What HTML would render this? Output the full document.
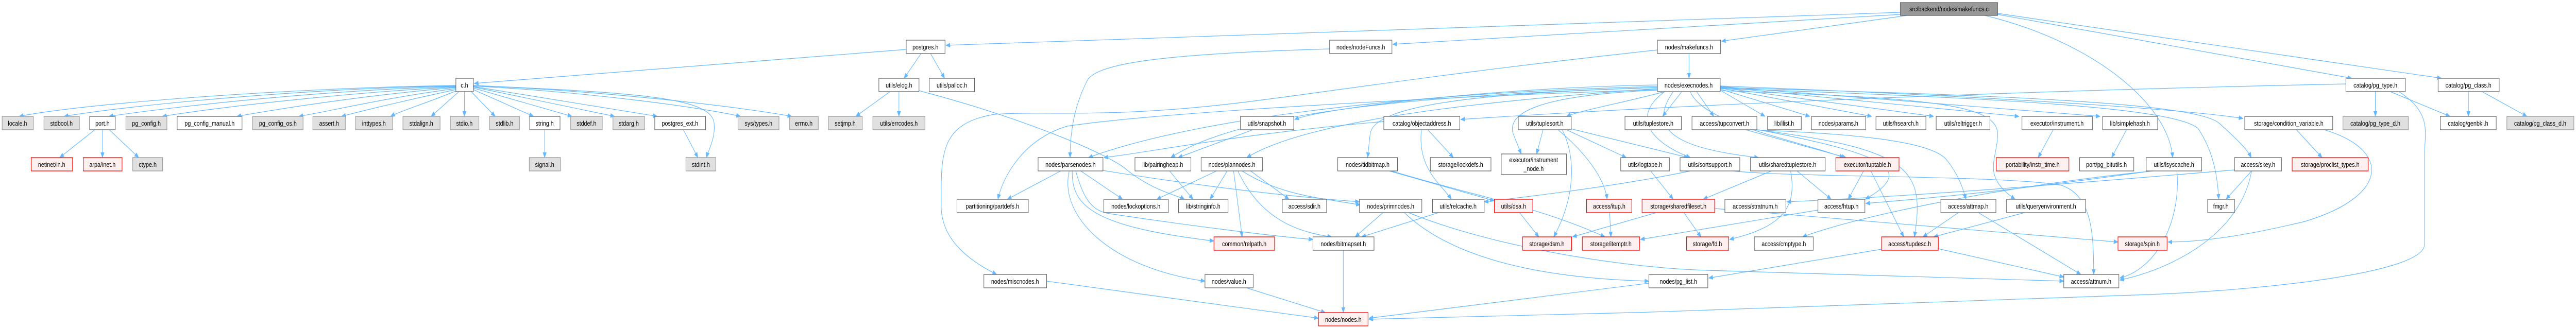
<!DOCTYPE html>
<html><head><meta charset="utf-8"><style>
html,body{margin:0;padding:0;background:#fff;overflow:hidden;width:100%;height:100%;}
svg{display:block;width:100vw;height:100vh;}
text{font-family:"Liberation Sans",sans-serif;font-size:13px;fill:#000;text-anchor:middle;}
.e{fill:none;stroke:#63b8ff;stroke-width:1.2;marker-end:url(#a);}
.w{fill:#fff;stroke:#666;stroke-width:1.3;}
.g{fill:#e0e0e0;stroke:#999;stroke-width:1.3;}
.r{fill:#fff0f0;stroke:#ff0000;stroke-width:1.3;}
.t{fill:#999;stroke:#666;stroke-width:1.3;}
</style></head><body>
<svg viewBox="0 0 6035 637" preserveAspectRatio="none" xmlns="http://www.w3.org/2000/svg">
<defs><marker id="a" markerWidth="11" markerHeight="9" refX="10" refY="4.5" orient="auto" markerUnits="userSpaceOnUse"><path d="M0,0 L11,4.5 L0,9 z" fill="#63b8ff"/></marker></defs>
<g>
<path class="e" d="M1068 166 C700 170,200 200,45 226"/>
<path class="e" d="M1068 167 C700 172,300 205,150 226"/>
<path class="e" d="M1068 168 C750 175,400 208,255 226"/>
<path class="e" d="M1068 169 C800 180,500 210,380 226"/>
<path class="e" d="M1068 170 C850 185,650 212,555 226"/>
<path class="e" d="M1068 172 C900 190,780 215,700 226"/>
<path class="e" d="M1068 174 C950 195,850 215,800 226"/>
<path class="e" d="M1070 176 C1000 200,940 215,915 226"/>
<path class="e" d="M1075 178 L1010 226"/>
<path class="e" d="M1088 178 L1088 226"/>
<path class="e" d="M1104 178 L1160 226"/>
<path class="e" d="M1109 174 L1250 226"/>
<path class="e" d="M1109 171 L1340 226"/>
<path class="e" d="M1109 169 L1440 226"/>
<path class="e" d="M1109 168 L1540 226"/>
<path class="e" d="M1109 167 C1400 180,1650 210,1735 226"/>
<path class="e" d="M1109 166 C1450 178,1750 210,1855 226"/>
<path class="e" d="M1109 166 C1500 180,1670 190,1673 240 C1676 270,1660 290,1655 306"/>
<path class="e" d="M222 252 L140 306"/>
<path class="e" d="M240 252 L240 306"/>
<path class="e" d="M256 252 L325 306"/>
<path class="e" d="M1276 252 L1276 306"/>
<path class="e" d="M1601 252 L1635 306"/>
<path class="e" d="M2158 104 L2118 152"/>
<path class="e" d="M2180 104 L2213 152"/>
<path class="e" d="M2085 178 L2005 226"/>
<path class="e" d="M2106 178 L2106 226"/>
<path class="e" d="M2153 176 C2400 230,2600 300,2640 330 C2700 370,2760 380,2775 387"/>
<path class="e" d="M4452 24 L2216 88"/>
<path class="e" d="M4452 28 L3263 86"/>
<path class="e" d="M4468 30 L4033 80"/>
<path class="e" d="M4680 28 L5510 152"/>
<path class="e" d="M4680 26 L5720 152"/>
<path class="e" d="M4650 30 C4900 80,5080 200,5090 306"/>
<path class="e" d="M2123 96 L1111 162"/>
<path class="e" d="M3115 95 C2700 105,2560 125,2545 160 C2515 210,2507 260,2507 306"/>
<path class="e" d="M3957 104 L3957 152"/>
<path class="e" d="M3883 97 C3400 140,3100 180,2900 200 C2600 230,2450 215,2330 222 C2200 240,2205 300,2205 400 C2205 470,2280 510,2335 533"/>
<path class="e" d="M3883 165 C3500 170,3100 210,3033 232"/>
<path class="e" d="M5496 163 C4800 175,4000 200,3422 232"/>
<path class="e" d="M3900 178 C3800 200,3700 215,3670 226"/>
<path class="e" d="M3940 178 L3895 226"/>
<path class="e" d="M3975 178 L4015 226"/>
<path class="e" d="M4030 175 L4135 226"/>
<path class="e" d="M4030 173 L4240 226"/>
<path class="e" d="M4030 171 L4385 226"/>
<path class="e" d="M4030 170 L4530 226"/>
<path class="e" d="M4030 169 L4730 226"/>
<path class="e" d="M4030 168 L4920 226"/>
<path class="e" d="M4030 167 C4600 185,5100 210,5255 230"/>
<path class="e" d="M4030 170 C4700 185,5150 200,5200 240 C5240 270,5265 290,5274 306"/>
<path class="e" d="M4030 172 C4700 190,5100 210,5150 250 C5190 300,5195 350,5198 387"/>
<path class="e" d="M4030 176 C4500 190,4680 200,4680 260 C4680 310,4640 340,4721 387"/>
<path class="e" d="M4100 252 C4300 258,4520 270,4560 310 C4590 340,4600 370,4606 387"/>
<path class="e" d="M3883 172 C3400 200,3050 240,2921 306"/>
<path class="e" d="M3883 170 C3300 185,2900 220,2743 306"/>
<path class="e" d="M3883 168 C3300 180,2800 230,2550 306"/>
<path class="e" d="M3242 236 C2900 260,2700 295,2586 306"/>
<path class="e" d="M3883 174 C3300 190,2700 220,2500 245 C2400 270,2350 340,2338 387"/>
<path class="e" d="M3883 170 C3500 180,3220 200,3210 260 L3204 306"/>
<path class="e" d="M3883 175 C3600 185,3530 220,3545 260 L3564 299"/>
<path class="e" d="M3900 178 C3830 220,3850 270,3960 306"/>
<path class="e" d="M3920 178 C3850 260,3950 290,4120 306"/>
<path class="e" d="M3960 178 C3990 240,4200 270,4320 306"/>
<path class="e" d="M3345 252 L3405 306"/>
<path class="e" d="M3330 252 C3320 330,3380 360,3400 387"/>
<path class="e" d="M2935 252 L2760 306"/>
<path class="e" d="M2485 332 L2360 387"/>
<path class="e" d="M2532 332 L2630 387"/>
<path class="e" d="M2512 332 C2510 400,2560 440,2844 468"/>
<path class="e" d="M2505 332 C2480 420,2600 520,2823 546"/>
<path class="e" d="M2584 331 C2800 360,3000 380,3185 392"/>
<path class="e" d="M2520 332 C2540 390,2560 410,2600 415 C2800 440,3000 460,3076 465"/>
<path class="e" d="M2740 332 L2795 387"/>
<path class="e" d="M2850 332 L2710 387"/>
<path class="e" d="M2875 332 L2835 387"/>
<path class="e" d="M2890 332 L2910 460"/>
<path class="e" d="M2910 332 C3000 380,3100 385,3187 398"/>
<path class="e" d="M2900 332 C2950 420,3030 450,3120 460"/>
<path class="e" d="M2930 332 L3020 387"/>
<path class="e" d="M2452 546 L3089 618"/>
<path class="e" d="M2920 559 L3105 607"/>
<path class="e" d="M3147 486 L3147 607"/>
<path class="e" d="M3863 550 L3207 618"/>
<path class="e" d="M5620 178 C5700 220,5680 260,5680 300 L5680 475 C5680 530,5300 565,5000 573 C4500 590,3800 610,3207 620"/>
<path class="e" d="M3240 413 L3175 460"/>
<path class="e" d="M3290 413 C3400 500,3600 540,3863 546"/>
<path class="e" d="M3300 413 C3500 480,3800 520,4000 525 C4400 535,4700 540,4835 546"/>
<path class="e" d="M3370 413 L3190 460"/>
<path class="e" d="M3560 413 L3605 460"/>
<path class="e" d="M3660 252 C3700 320,3680 400,3640 460"/>
<path class="e" d="M3650 252 C3720 300,3760 350,3765 387"/>
<path class="e" d="M3670 252 L3810 306"/>
<path class="e" d="M3680 250 L3955 306"/>
<path class="e" d="M3615 252 L3600 299"/>
<path class="e" d="M3255 332 L3501 390"/>
<path class="e" d="M3260 332 C3450 380,3600 400,3760 460"/>
<path class="e" d="M3867 332 L3920 387"/>
<path class="e" d="M3960 332 C3800 360,3600 380,3477 392"/>
<path class="e" d="M3880 413 L3684 460"/>
<path class="e" d="M3945 413 L3985 460"/>
<path class="e" d="M3771 413 L3774 460"/>
<path class="e" d="M4210 332 L4290 387"/>
<path class="e" d="M4195 332 C4210 400,4180 440,4052 465"/>
<path class="e" d="M4150 332 L3990 387"/>
<path class="e" d="M4366 332 L4330 387"/>
<path class="e" d="M4383 332 L4460 460"/>
<path class="e" d="M4090 252 L4325 306"/>
<path class="e" d="M4120 252 C4420 300,4490 330,4370 387"/>
<path class="e" d="M4116 252 C4480 290,4510 330,4485 460"/>
<path class="e" d="M4810 252 L4775 306"/>
<path class="e" d="M4982 252 L4947 306"/>
<path class="e" d="M4588 413 L4505 460"/>
<path class="e" d="M4635 413 L4875 533"/>
<path class="e" d="M4743 413 L4530 460"/>
<path class="e" d="M4541 483 L4835 538"/>
<path class="e" d="M4408 484 L4003 540"/>
<path class="e" d="M4259 408 L3843 465"/>
<path class="e" d="M5235 330 C4800 360,4500 380,4186 392"/>
<path class="e" d="M5040 332 C4800 360,4600 380,4371 395"/>
<path class="e" d="M5045 332 C4700 360,4350 420,4223 460"/>
<path class="e" d="M5100 332 C5110 420,5060 520,4966 540"/>
<path class="e" d="M5275 332 C5250 450,5100 520,4966 544"/>
<path class="e" d="M5275 332 L5215 387"/>
<path class="e" d="M5380 252 L5440 306"/>
<path class="e" d="M5445 252 C5600 290,5600 380,5400 430 C5250 460,5150 470,5079 470"/>
<path class="e" d="M4017 405 C4400 430,4800 460,4962 470"/>
<path class="e" d="M5565 178 L5565 226"/>
<path class="e" d="M5600 178 L5740 226"/>
<path class="e" d="M5783 178 L5783 226"/>
<path class="e" d="M5815 178 L5920 226"/>
<path class="e" d="M4060 332 C4200 345,4700 340,4830 360 C4900 380,4905 450,4905 533"/>
</g>
<g>
<rect class="t" x="4452" y="5" width="228" height="25"/><text x="4566" y="22">src/backend/nodes/makefuncs.c</text>
<rect class="w" x="2123" y="78" width="91" height="26"/><text x="2168" y="96">postgres.h</text>
<rect class="w" x="3115" y="78" width="146" height="26"/><text x="3188" y="96">nodes/nodeFuncs.h</text>
<rect class="w" x="3883" y="78" width="148" height="26"/><text x="3957" y="96">nodes/makefuncs.h</text>
<rect class="w" x="1068" y="152" width="41" height="26"/><text x="1088" y="170">c.h</text>
<rect class="w" x="2059" y="152" width="94" height="26"/><text x="2106" y="170">utils/elog.h</text>
<rect class="w" x="2177" y="152" width="106" height="26"/><text x="2230" y="170">utils/palloc.h</text>
<rect class="w" x="3883" y="152" width="147" height="26"/><text x="3956" y="170">nodes/execnodes.h</text>
<rect class="w" x="5496" y="152" width="139" height="26"/><text x="5565" y="170">catalog/pg_type.h</text>
<rect class="w" x="5712" y="152" width="143" height="26"/><text x="5783" y="170">catalog/pg_class.h</text>
<rect class="g" x="5" y="226" width="73" height="26"/><text x="41" y="244">locale.h</text>
<rect class="g" x="103" y="226" width="83" height="26"/><text x="144" y="244">stdbool.h</text>
<rect class="w" x="210" y="226" width="60" height="26"/><text x="240" y="244">port.h</text>
<rect class="g" x="295" y="226" width="96" height="26"/><text x="343" y="244">pg_config.h</text>
<rect class="w" x="415" y="226" width="152" height="26"/><text x="491" y="244">pg_config_manual.h</text>
<rect class="g" x="592" y="226" width="118" height="26"/><text x="651" y="244">pg_config_os.h</text>
<rect class="g" x="733" y="226" width="76" height="26"/><text x="771" y="244">assert.h</text>
<rect class="g" x="833" y="226" width="87" height="26"/><text x="876" y="244">inttypes.h</text>
<rect class="g" x="944" y="226" width="87" height="26"/><text x="987" y="244">stdalign.h</text>
<rect class="g" x="1055" y="226" width="67" height="26"/><text x="1088" y="244">stdio.h</text>
<rect class="g" x="1147" y="226" width="70" height="26"/><text x="1182" y="244">stdlib.h</text>
<rect class="w" x="1241" y="226" width="71" height="26"/><text x="1276" y="244">string.h</text>
<rect class="g" x="1337" y="226" width="74" height="26"/><text x="1374" y="244">stddef.h</text>
<rect class="g" x="1436" y="226" width="74" height="26"/><text x="1473" y="244">stdarg.h</text>
<rect class="w" x="1534" y="226" width="119" height="26"/><text x="1593" y="244">postgres_ext.h</text>
<rect class="g" x="1729" y="226" width="96" height="26"/><text x="1777" y="244">sys/types.h</text>
<rect class="g" x="1850" y="226" width="67" height="26"/><text x="1883" y="244">errno.h</text>
<rect class="g" x="1941" y="226" width="79" height="26"/><text x="1980" y="244">setjmp.h</text>
<rect class="g" x="2045" y="226" width="122" height="26"/><text x="2106" y="244">utils/errcodes.h</text>
<rect class="w" x="2906" y="226" width="125" height="26"/><text x="2968" y="244">utils/snapshot.h</text>
<rect class="w" x="3242" y="226" width="178" height="26"/><text x="3331" y="244">catalog/objectaddress.h</text>
<rect class="w" x="3557" y="226" width="124" height="26"/><text x="3619" y="244">utils/tuplesort.h</text>
<rect class="w" x="3807" y="226" width="132" height="26"/><text x="3873" y="244">utils/tuplestore.h</text>
<rect class="w" x="3964" y="226" width="152" height="26"/><text x="4040" y="244">access/tupconvert.h</text>
<rect class="w" x="4141" y="226" width="79" height="26"/><text x="4180" y="244">lib/ilist.h</text>
<rect class="w" x="4244" y="226" width="127" height="26"/><text x="4307" y="244">nodes/params.h</text>
<rect class="w" x="4395" y="226" width="117" height="26"/><text x="4453" y="244">utils/hsearch.h</text>
<rect class="w" x="4536" y="226" width="126" height="26"/><text x="4599" y="244">utils/reltrigger.h</text>
<rect class="w" x="4737" y="226" width="165" height="26"/><text x="4819" y="244">executor/instrument.h</text>
<rect class="w" x="4926" y="226" width="129" height="26"/><text x="4990" y="244">lib/simplehash.h</text>
<rect class="w" x="5259" y="226" width="206" height="26"/><text x="5362" y="244">storage/condition_variable.h</text>
<rect class="g" x="5489" y="226" width="153" height="26"/><text x="5565" y="244">catalog/pg_type_d.h</text>
<rect class="w" x="5717" y="226" width="131" height="26"/><text x="5782" y="244">catalog/genbki.h</text>
<rect class="g" x="5873" y="226" width="157" height="26"/><text x="5951" y="244">catalog/pg_class_d.h</text>
<rect class="r" x="73" y="306" width="97" height="26"/><text x="121" y="324">netinet/in.h</text>
<rect class="r" x="195" y="306" width="91" height="26"/><text x="240" y="324">arpa/inet.h</text>
<rect class="g" x="311" y="306" width="70" height="26"/><text x="346" y="324">ctype.h</text>
<rect class="g" x="1240" y="306" width="73" height="26"/><text x="1276" y="324">signal.h</text>
<rect class="g" x="1607" y="306" width="70" height="26"/><text x="1642" y="324">stdint.h</text>
<rect class="w" x="2432" y="306" width="152" height="26"/><text x="2508" y="324">nodes/parsenodes.h</text>
<rect class="w" x="2659" y="306" width="131" height="26"/><text x="2724" y="324">lib/pairingheap.h</text>
<rect class="w" x="2814" y="306" width="144" height="26"/><text x="2886" y="324">nodes/plannodes.h</text>
<rect class="w" x="3134" y="306" width="140" height="26"/><text x="3204" y="324">nodes/tidbitmap.h</text>
<rect class="w" x="3351" y="306" width="142" height="26"/><text x="3422" y="324">storage/lockdefs.h</text>
<rect class="w" x="3517" y="299" width="153" height="40"/><text x="3593" y="315">executor/instrument</text><text x="3593" y="332">_node.h</text>
<rect class="w" x="3797" y="306" width="114" height="26"/><text x="3854" y="324">utils/logtape.h</text>
<rect class="w" x="3936" y="306" width="140" height="26"/><text x="4006" y="324">utils/sortsupport.h</text>
<rect class="w" x="4101" y="306" width="175" height="26"/><text x="4188" y="324">utils/sharedtuplestore.h</text>
<rect class="r" x="4301" y="306" width="148" height="26"/><text x="4375" y="324">executor/tuptable.h</text>
<rect class="r" x="4677" y="306" width="170" height="26"/><text x="4762" y="324">portability/instr_time.h</text>
<rect class="w" x="4872" y="306" width="127" height="26"/><text x="4935" y="324">port/pg_bitutils.h</text>
<rect class="w" x="5028" y="306" width="130" height="26"/><text x="5093" y="324">utils/lsyscache.h</text>
<rect class="w" x="5235" y="306" width="110" height="26"/><text x="5290" y="324">access/skey.h</text>
<rect class="r" x="5370" y="306" width="178" height="26"/><text x="5459" y="324">storage/proclist_types.h</text>
<rect class="w" x="2242" y="387" width="167" height="26"/><text x="2325" y="405">partitioning/partdefs.h</text>
<rect class="w" x="2586" y="387" width="151" height="26"/><text x="2661" y="405">nodes/lockoptions.h</text>
<rect class="w" x="2761" y="387" width="116" height="26"/><text x="2819" y="405">lib/stringinfo.h</text>
<rect class="w" x="3004" y="387" width="104" height="26"/><text x="3056" y="405">access/sdir.h</text>
<rect class="w" x="3185" y="387" width="146" height="26"/><text x="3258" y="405">nodes/primnodes.h</text>
<rect class="w" x="3356" y="387" width="121" height="26"/><text x="3416" y="405">utils/relcache.h</text>
<rect class="r" x="3501" y="387" width="90" height="26"/><text x="3546" y="405">utils/dsa.h</text>
<rect class="r" x="3717" y="387" width="106" height="26"/><text x="3770" y="405">access/itup.h</text>
<rect class="r" x="3847" y="387" width="170" height="26"/><text x="3932" y="405">storage/sharedfileset.h</text>
<rect class="w" x="4041" y="387" width="143" height="26"/><text x="4112" y="405">access/stratnum.h</text>
<rect class="w" x="4259" y="387" width="110" height="26"/><text x="4314" y="405">access/htup.h</text>
<rect class="w" x="4547" y="387" width="129" height="26"/><text x="4611" y="405">access/attmap.h</text>
<rect class="w" x="4701" y="387" width="185" height="26"/><text x="4793" y="405">utils/queryenvironment.h</text>
<rect class="w" x="5172" y="387" width="63" height="26"/><text x="5203" y="405">fmgr.h</text>
<rect class="r" x="2844" y="460" width="142" height="26"/><text x="2915" y="478">common/relpath.h</text>
<rect class="w" x="3076" y="460" width="143" height="26"/><text x="3147" y="478">nodes/bitmapset.h</text>
<rect class="r" x="3567" y="460" width="115" height="26"/><text x="3624" y="478">storage/dsm.h</text>
<rect class="r" x="3707" y="460" width="134" height="26"/><text x="3774" y="478">storage/itemptr.h</text>
<rect class="r" x="3951" y="460" width="99" height="26"/><text x="4000" y="478">storage/fd.h</text>
<rect class="w" x="4110" y="460" width="138" height="26"/><text x="4179" y="478">access/cmptype.h</text>
<rect class="r" x="4408" y="460" width="133" height="26"/><text x="4474" y="478">access/tupdesc.h</text>
<rect class="r" x="4962" y="460" width="115" height="26"/><text x="5019" y="478">storage/spin.h</text>
<rect class="w" x="2305" y="533" width="147" height="26"/><text x="2378" y="551">nodes/miscnodes.h</text>
<rect class="w" x="2823" y="533" width="113" height="26"/><text x="2879" y="551">nodes/value.h</text>
<rect class="w" x="3863" y="533" width="138" height="26"/><text x="3932" y="551">nodes/pg_list.h</text>
<rect class="w" x="4835" y="533" width="129" height="26"/><text x="4899" y="551">access/attnum.h</text>
<rect class="r" x="3089" y="607" width="116" height="26"/><text x="3147" y="625">nodes/nodes.h</text>
</g>
</svg>
</body></html>
